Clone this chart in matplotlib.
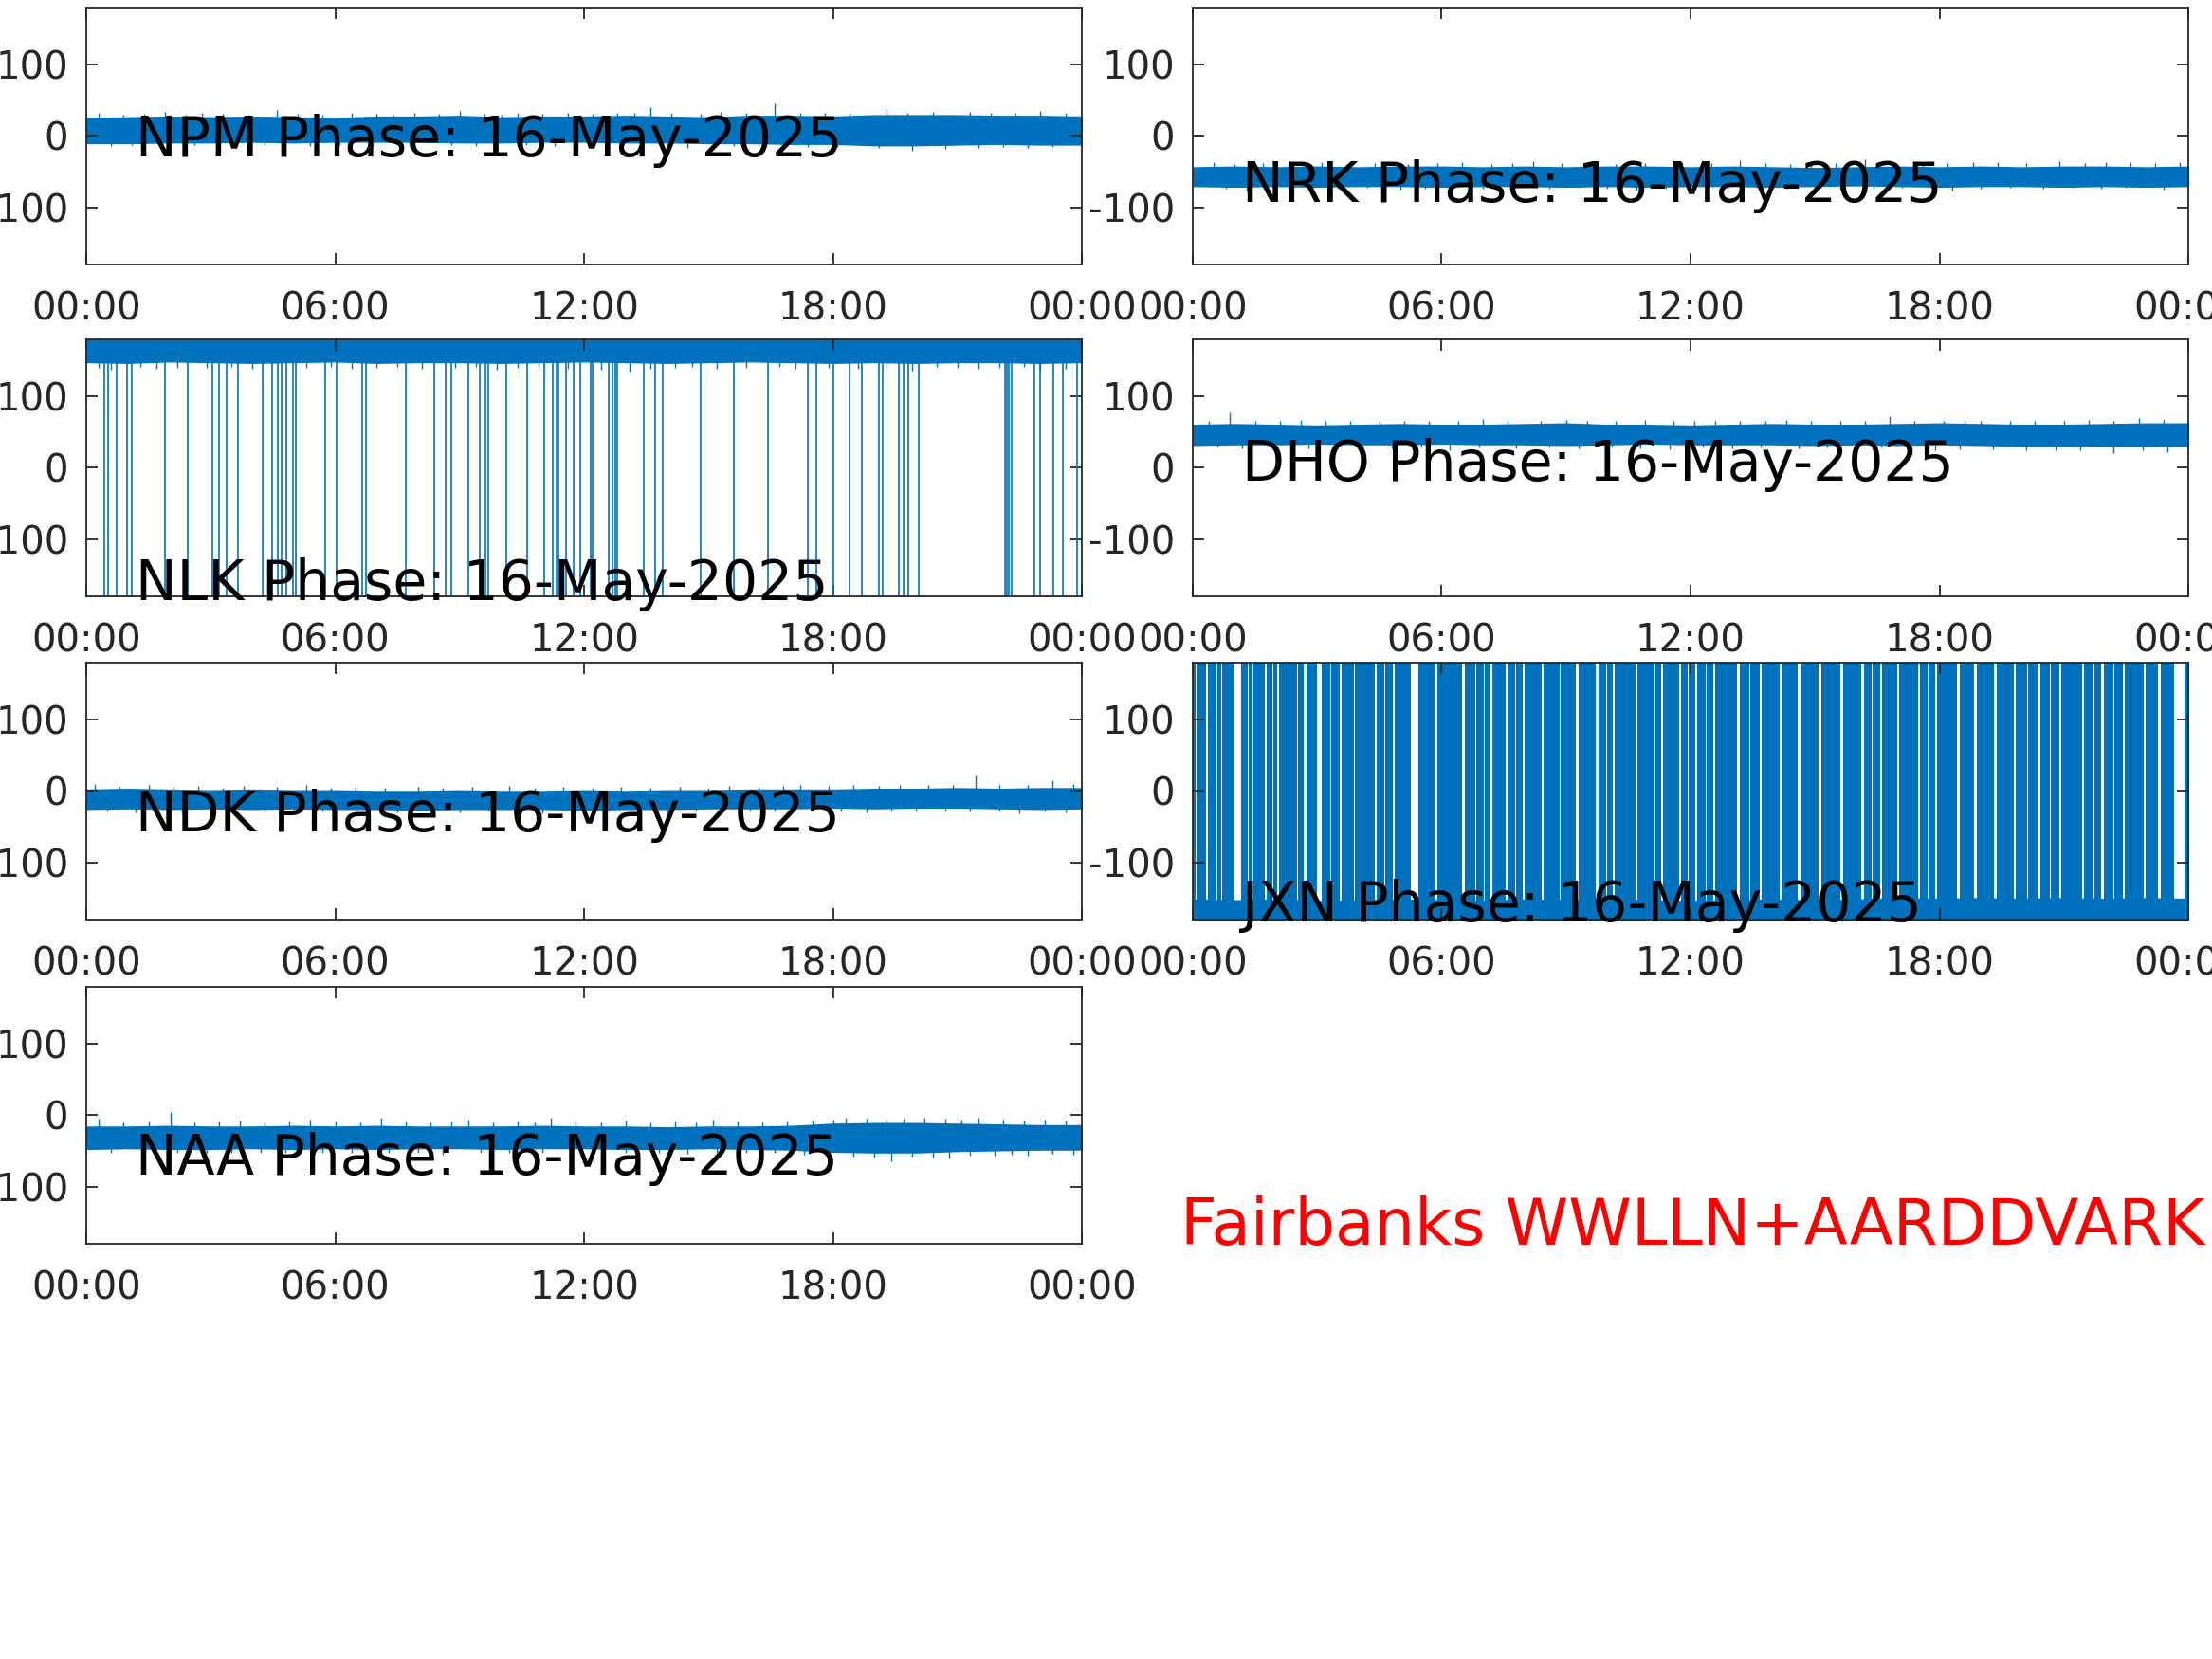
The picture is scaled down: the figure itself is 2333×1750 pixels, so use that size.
import matplotlib.pyplot as plt

# Fairbanks VLF phase, 16-May-2025 (degrees)
hours = list(range(25))
tick_hours = [0, 6, 12, 18, 24]
tick_labels = ['00:00', '06:00', '12:00', '18:00', '00:00']
ytick_vals = [-100, 0, 100]
ytick_labels = ['-100', '0', '100']
date_str = '16-May-2025'

# NPM
npm_hi = [25, 26, 27, 26, 27, 26, 25, 27, 27, 28, 26, 27, 27, 28, 27, 26, 28, 28, 27, 29, 29, 29, 28, 28, 27]
npm_lo = [-10, -10, -9, -9, -8, -9, -8, -8, -8, -9, -9, -8, -8, -9, -9, -10, -10, -11, -11, -13, -13, -12, -11, -12, -12]
npm_spike_t = [0.3, 0.9, 1.4, 1.9, 2.4, 2.8, 3.3, 3.9, 4.6, 5.1, 5.7, 6.4, 7.0, 7.4, 7.9, 8.5, 9.0, 9.6, 10.0,
               10.4, 11.0, 11.6, 12.2, 12.8, 13.2, 13.6, 14.1, 14.8, 15.3, 15.9, 16.6, 17.2, 17.8, 18.4, 19.3,
               19.8, 20.4, 21.3, 21.8, 22.4, 23.0, 23.6,
               0.6, 1.1, 2.0, 2.6, 3.6, 4.3, 5.4, 6.1, 6.9, 7.8, 8.8, 9.4, 10.6, 11.3, 12.5, 13.4, 14.5, 15.6,
               16.3, 17.4, 18.1, 19.1, 19.9, 20.7, 21.5, 22.1, 22.7, 23.3]
npm_spike_v = [32, 30, 31, 34, 30, 32, 31, 30, 36, 31, 30, 33, 31, 30, 32, 31, 35, 31, 30,
               32, 31, 33, 31, 32, 33, 40, 32, 31, 34, 32, 46, 32, 33, 32, 38,
               33, 34, 34, 33, 32, 35, 33,
               -14, -13, -16, -13, -14, -13, -14, -13, -14, -16, -13, -14, -13, -14, -13, -14, -17, -14,
               -15, -15, -16, -17, -21, -18, -17, -16, -17, -16]

# NRK
nrk_hi = [-44, -43, -44, -43, -44, -43, -43, -44, -43, -44, -43, -43, -44, -43, -44, -45, -44, -43, -44, -43, -44, -43, -43, -44, -43]
nrk_lo = [-70, -71, -70, -71, -70, -70, -71, -70, -70, -71, -70, -71, -70, -70, -71, -70, -69, -70, -71, -70, -70, -71, -70, -71, -70]
nrk_spike_t = [0.5, 1.0, 1.7, 2.3, 3.1, 3.7, 4.4, 5.2, 5.9, 6.5, 7.2, 7.7, 8.2, 8.9, 9.6, 10.2, 10.9, 11.8,
               12.5, 13.2, 13.8, 14.4, 14.9, 15.5, 16.2, 16.9, 17.6, 18.2, 18.8, 19.4, 20.1, 20.9, 21.5,
               22.0, 22.6, 23.2, 23.8,
               0.8, 1.3, 2.0, 2.9, 3.5, 4.2, 5.0, 5.6, 6.3, 7.0, 7.9, 8.6, 9.3, 10.0, 10.7, 11.4, 12.1,
               12.9, 13.6, 14.3, 15.0, 15.6, 16.4, 17.1, 17.8, 18.3, 19.0, 19.7, 20.5, 21.2, 21.9, 22.5, 23.4]
nrk_spike_v = [-36, -39, -38, -39, -37, -39, -38, -39, -38, -36, -39, -38, -35, -38, -37, -39, -38, -36,
               -38, -34, -38, -39, -37, -38, -33, -38, -39, -38, -37, -36, -38, -35, -38,
               -37, -36, -38, -37,
               -74, -76, -74, -73, -74, -73, -75, -74, -73, -74, -73, -74, -73, -74, -76, -74, -73,
               -74, -73, -74, -73, -75, -74, -73, -74, -76, -74, -73, -74, -73, -74, -73, -75]

# NLK
nlk_hi = [180] * 25
nlk_lo = [148, 147, 149, 148, 147, 148, 149, 147, 148, 148, 147, 148, 149, 148, 147, 148, 149, 148, 147, 148, 147, 148, 148, 147, 148]
nlk_spike_t = [0.3, 0.6, 1.3, 1.7, 2.2, 2.9, 3.5, 4.0, 5.3, 5.9, 6.4, 7.0, 7.5, 8.1, 8.9, 9.4, 9.9, 10.4,
               10.9, 11.6, 12.4, 13.1, 13.6, 14.2, 14.6, 15.2, 15.9, 16.7, 17.1, 17.9, 18.6, 19.3, 19.9,
               20.5, 21.0, 21.5, 22.0, 22.6, 23.0, 23.6]
nlk_spike_v = [140, 138, 141, 139, 140, 140, 141, 139, 140, 141, 139, 140, 141, 139, 140, 141, 137, 140,
               141, 139, 138, 135, 139, 140, 141, 139, 140, 141, 139, 140, 139, 140, 136,
               141, 140, 139, 140, 141, 138, 139]
nlk_wraps = [0.44, 0.53, 0.73, 0.99, 1.09, 1.89, 2.44, 3.04, 3.21, 3.38, 3.65, 4.26, 4.49, 4.61, 4.71,
             4.83, 4.98, 5.05, 5.77, 6.04, 6.65, 6.75, 7.71, 8.39, 8.67, 8.80, 9.21, 9.48, 9.62, 9.69,
             10.12, 10.63, 11.04, 11.24, 11.33, 11.39, 11.57, 11.74, 11.91, 12.15, 12.21, 12.59, 12.69,
             12.76, 12.81, 13.44, 13.71, 13.90, 14.81, 15.60, 16.43, 17.40, 17.60, 18.00, 18.39, 18.70,
             19.10, 19.19, 19.58, 19.70, 19.82, 20.06, 22.14, 22.19, 22.24, 22.31, 22.86, 22.99, 23.32,
             23.54, 23.89]

# DHO
dho_hi = [60, 61, 60, 59, 60, 61, 60, 60, 61, 62, 60, 60, 59, 60, 61, 60, 60, 61, 62, 61, 60, 60, 61, 62, 62]
dho_lo = [32, 33, 33, 34, 33, 33, 34, 33, 33, 32, 33, 34, 33, 33, 33, 32, 33, 32, 33, 32, 31, 31, 30, 30, 31]
dho_spike_t = [0.4, 0.9, 1.5, 2.1, 2.6, 3.2, 3.8, 4.5, 5.1, 5.7, 6.4, 7.0, 7.6, 8.4, 9.0, 9.5, 10.2, 10.9,
               11.6, 12.1, 12.6, 13.2, 13.8, 14.3, 14.9, 15.6, 16.2, 16.8, 17.4, 18.1, 18.6, 19.0, 19.7,
               20.3, 21.0, 21.6, 22.2, 22.8, 23.4,
               0.6, 1.2, 1.9, 2.8, 3.4, 4.1, 4.8, 5.5, 6.2, 6.9, 7.8, 8.6, 9.3, 10.1, 10.8, 11.5, 12.3,
               13.0, 13.7, 14.6, 15.3, 16.0, 16.6, 17.2, 17.9, 18.5, 19.3, 20.1, 20.8, 21.4, 22.2, 22.9, 23.5]
dho_spike_v = [66, 78, 65, 66, 67, 65, 66, 66, 65, 66, 65, 68, 65, 66, 67, 66, 65, 67,
               65, 66, 66, 65, 66, 67, 65, 66, 65, 72, 66, 65, 66, 66, 65,
               66, 65, 67, 66, 70, 67,
               28, 27, 28, 27, 24, 28, 27, 28, 25, 28, 27, 28, 27, 28, 27, 26, 28,
               27, 28, 27, 28, 27, 28, 27, 24, 26, 26, 25, 25, 24, 21, 24, 22]

# NDK
ndk_hi = [2, 3, 2, 1, 2, 1, 1, 0, 0, 1, 0, 0, 1, 0, 1, 1, 2, 2, 2, 3, 3, 4, 3, 4, 4]
ndk_lo = [-25, -24, -25, -24, -25, -24, -25, -25, -26, -25, -25, -25, -26, -25, -25, -24, -24, -24, -23, -24, -23, -23, -24, -25, -24]
ndk_spike_t = [0.2, 0.8, 1.5, 2.1, 2.7, 3.3, 3.8, 4.6, 5.3, 5.9, 6.5, 7.2, 8.0, 8.6, 9.3, 10.2, 10.8, 11.5,
               12.2, 12.9, 13.6, 14.3, 15.0, 15.5, 16.2, 16.8, 17.2, 17.9, 18.5, 19.1, 19.6, 20.3, 20.9,
               21.45, 22.0, 22.7, 23.3, 23.8,
               0.5, 1.2, 2.3, 3.0, 3.6, 4.3, 5.0, 5.7, 6.8, 7.5, 8.3, 9.0, 9.7, 10.5, 11.0, 11.8, 12.6,
               13.3, 14.0, 14.7, 15.3, 16.0, 16.6, 17.5, 18.2, 18.8, 19.4, 20.0, 20.7, 21.3, 22.0, 22.5,
               23.1, 23.6]
ndk_spike_v = [10, 6, 8, 6, 7, 5, 7, 6, 8, 5, 6, 5, 6, 5, 6, 7, 5, 6,
               5, 6, 5, 6, 5, 7, 6, 7, 8, 7, 8, 7, 9, 8, 8,
               22, 9, 9, 15, 10,
               -29, -30, -31, -29, -30, -29, -30, -29, -30, -30, -31, -30, -29, -30, -31, -30, -29,
               -30, -30, -29, -30, -29, -29, -28, -29, -30, -28, -29, -28, -29, -28, -31,
               -29, -30]

# JXN (phase wraps almost constantly; gaps = stretches that stay near -165)
jxn_hi = [-152, -153, -152, -154, -153, -152, -153, -154, -152, -153, -152, -153, -154, -153, -152, -153, -152, -150, -151, -150, -151, -150, -151, -150, -151]
jxn_lo = [-180] * 25
jxn_gaps = [(0.05, 0.12), (0.30, 0.36), (0.55, 0.60), (0.66, 0.72), (0.95, 1.16), (1.30, 1.34), (1.41, 1.47),
            (1.72, 1.78), (1.90, 1.94), (2.02, 2.08), (2.29, 2.34), (2.50, 2.53), (2.66, 2.74), (2.98, 3.10),
            (3.30, 3.34), (3.51, 3.58), (3.70, 3.73), (3.86, 3.92), (4.15, 4.19), (4.36, 4.43), (4.60, 4.63),
            (4.80, 4.86), (5.05, 5.08), (5.24, 5.45), (5.65, 5.68), (5.83, 5.90), (6.10, 6.13), (6.30, 6.34),
            (6.47, 6.55), (6.80, 6.84), (7.00, 7.03), (7.14, 7.22), (7.40, 7.43), (7.53, 7.60), (7.76, 7.79),
            (7.94, 8.01), (8.20, 8.23), (8.38, 8.45), (8.62, 8.65), (8.82, 8.88), (9.05, 9.08), (9.22, 9.30),
            (9.50, 9.53), (9.70, 9.78), (9.95, 9.98), (10.11, 10.18), (10.40, 10.43), (10.66, 10.72),
            (10.95, 10.98), (11.12, 11.15), (11.27, 11.34), (11.50, 11.53), (11.70, 11.78), (11.92, 11.95),
            (12.09, 12.15), (12.35, 12.38), (12.53, 12.60), (12.85, 12.88), (13.10, 13.18), (13.40, 13.43),
            (13.65, 13.72), (13.90, 13.93), (14.12, 14.20), (14.38, 14.41), (14.56, 14.64), (14.85, 14.88),
            (15.07, 15.15), (15.35, 15.38), (15.59, 15.67), (15.90, 15.93), (16.10, 16.18), (16.35, 16.38),
            (16.54, 16.62), (16.78, 16.81), (16.95, 17.03), (17.25, 17.28), (17.46, 17.54), (17.70, 17.73),
            (17.87, 17.95), (18.15, 18.18), (18.41, 18.49), (18.65, 18.68), (18.82, 18.90), (19.10, 19.13),
            (19.30, 19.38), (19.58, 19.61), (19.77, 19.85), (20.10, 20.13), (20.35, 20.43), (20.65, 20.68),
            (20.86, 20.94), (21.18, 21.21), (21.41, 21.49), (21.70, 21.73), (21.88, 21.96), (22.18, 22.21),
            (22.39, 22.47), (22.70, 22.73), (22.90, 22.98), (23.10, 23.13), (23.25, 23.33), (23.45, 23.48),
            (23.63, 23.90)]

# NAA
naa_hi = [-16, -16, -15, -16, -16, -15, -16, -15, -16, -16, -16, -15, -16, -16, -17, -16, -16, -15, -12, -11, -11, -12, -13, -14, -14]
naa_lo = [-47, -46, -47, -47, -46, -47, -46, -47, -46, -46, -47, -46, -46, -47, -47, -46, -47, -48, -51, -52, -52, -50, -49, -48, -48]
naa_spike_t = [0.3, 0.9, 1.5, 2.03, 2.6, 3.2, 3.7, 4.3, 4.9, 5.4, 6.0, 6.6, 7.1, 7.7, 8.3, 8.8, 9.2, 9.8,
               10.4, 10.8, 11.2, 11.8, 12.4, 13.0, 13.6, 14.2, 14.7, 15.1, 15.7, 16.3, 16.9, 17.5, 18.0,
               18.3, 18.8, 19.3, 19.7, 20.2, 20.7, 21.1, 21.5, 22.1, 22.6, 23.1, 23.6,
               0.6, 1.4, 2.2, 2.9, 3.5, 4.2, 4.8, 5.7, 6.4, 7.3, 8.0, 8.6, 9.5, 10.2, 11.0, 11.7, 12.2,
               13.0, 13.8, 14.5, 15.2, 15.9, 16.6, 17.3, 17.9, 18.5, 19.0, 19.4, 19.9, 20.4, 20.8, 21.3,
               21.9, 22.3, 22.7, 23.3, 23.8]
naa_spike_v = [-5, -10, -9, 5, -10, -9, -8, -10, -9, -6, -9, -10, -3, -9, -10, -9, -6, -10,
               -9, -10, -4, -9, -10, -7, -10, -9, -10, -6, -9, -10, -9, -8, -6,
               -3, -5, -6, -5, -4, -5, -6, -4, -6, -7, -6, -7,
               -53, -54, -52, -53, -52, -53, -53, -52, -53, -52, -53, -55, -52, -53, -52, -53, -53,
               -52, -53, -54, -53, -52, -52, -55, -57, -58, -59, -64, -58, -59, -60, -57,
               -56, -55, -56, -54, -55]

blue = '#0072BD'
grey = '#262626'

fig = plt.figure(figsize=(23.33, 17.5), dpi=100)

col_x = [0.0390, 0.5392]
row_y = [0.8406, 0.6406, 0.4457, 0.2503]
w, h = 0.4501, 0.1549


def make_axes(row, col):
    ax = fig.add_axes([col_x[col], row_y[row], w, h])
    ax.set_xlim(0, 24)
    ax.set_ylim(-180, 180)
    ax.set_xticks(tick_hours)
    ax.set_xticklabels(tick_labels)
    ax.set_yticks(ytick_vals)
    ax.set_yticklabels(ytick_labels)
    ax.tick_params(direction='in', length=8.5, width=1.3, color=grey, labelcolor=grey,
                   labelsize=29, top=True, right=True)
    ax.tick_params(axis='x', pad=20)
    ax.tick_params(axis='y', pad=13.5)
    for s in ax.spines.values():
        s.set_color(grey)
        s.set_linewidth(1.3)
    return ax


def band(ax, hi, lo, spike_t, spike_v, base):
    ax.fill_between(hours, lo, hi, color=blue, lw=1.0)
    ax.vlines(spike_t, base, spike_v, color=blue, lw=1.0)


def label(ax, name, y):
    ax.text(1.2, y, name + ' Phase: ' + date_str, fontsize=42, color='black', va='baseline')


ax = make_axes(0, 0)
band(ax, npm_hi, npm_lo, npm_spike_t, npm_spike_v, 8)
label(ax, 'NPM', -29)

ax = make_axes(0, 1)
band(ax, nrk_hi, nrk_lo, nrk_spike_t, nrk_spike_v, -57)
label(ax, 'NRK', -92)

ax = make_axes(1, 0)
band(ax, nlk_hi, nlk_lo, nlk_spike_t, nlk_spike_v, 160)
ax.vlines(nlk_wraps, -180, 160, color=blue, lw=1.2)
label(ax, 'NLK', -185)

ax = make_axes(1, 1)
band(ax, dho_hi, dho_lo, dho_spike_t, dho_spike_v, 47)
label(ax, 'DHO', -18)

ax = make_axes(2, 0)
band(ax, ndk_hi, ndk_lo, ndk_spike_t, ndk_spike_v, -11)
label(ax, 'NDK', -57)

ax = make_axes(2, 1)
ax.fill_between(hours, jxn_lo, jxn_hi, color=blue, lw=1.0)
prev = 0
for a, b in jxn_gaps + [(24, 24)]:
    if a > prev:
        ax.fill_between([prev, a], -180, 180, color=blue, lw=0.8)
    prev = b
label(ax, 'JXN', -183)

ax = make_axes(3, 0)
band(ax, naa_hi, naa_lo, naa_spike_t, naa_spike_v, -32)
label(ax, 'NAA', -83)

fig.text(0.5337, 0.2497, 'Fairbanks WWLLN+AARDDVARK', fontsize=48.5, color='red', va='baseline')

fig.savefig('out.png', dpi=100)
